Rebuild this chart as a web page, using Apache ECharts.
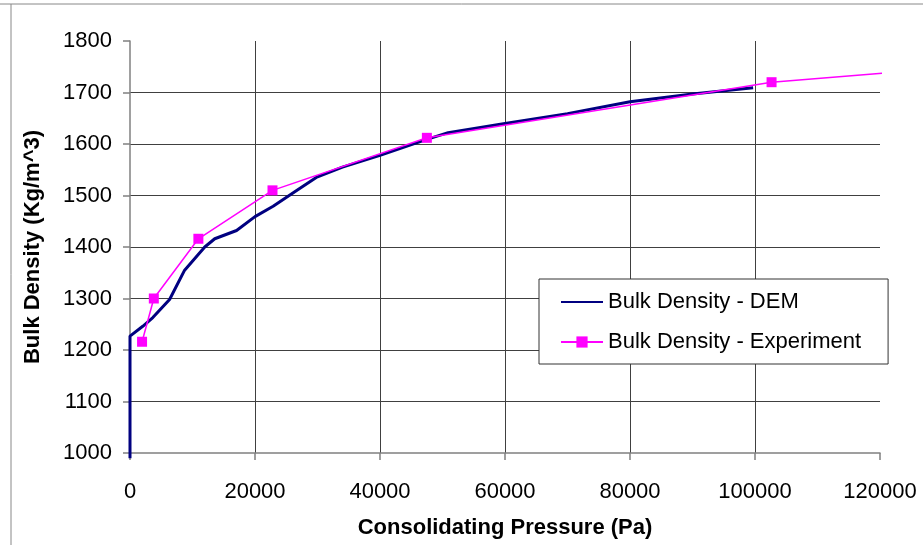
<!DOCTYPE html>
<html>
<head>
<meta charset="utf-8">
<script src="https://cdn.jsdelivr.net/npm/echarts@6/dist/echarts.min.js"></script>
<style>html,body{margin:0;padding:0;background:#fff}#c{width:923px;height:545px}</style>
</head>
<body>
<div id="c"></div>
<script>
var xTicks = [0, 20000, 40000, 60000, 80000, 100000, 120000];
var yTicks = [1000, 1100, 1200, 1300, 1400, 1500, 1600, 1700, 1800];
var demPressure = [0, 0, 2040, 3650, 6330, 8740, 11960, 13560, 17050, 20000, 22900, 26600, 29800, 34000, 40000, 47250, 50900, 60000, 70000, 80000, 90000, 99700];
var demDensity  = [990, 1227, 1246, 1263, 1298, 1355, 1400, 1416, 1432, 1459, 1479, 1509, 1535, 1555, 1578, 1608, 1622, 1640, 1659, 1682, 1697, 1709];
var expPressure = [1930, 3810, 10940, 22800, 47500, 102650, 121000];
var expDensity  = [1216, 1300, 1416, 1510, 1612, 1720, 1738];
var expMarked   = [true, true, true, true, true, true, false];

var font = '"Liberation Sans", Arial, sans-serif';
var demData = demPressure.map(function (p, i) { return [p, demDensity[i]]; });
var expData = expPressure.map(function (p, i) {
  var d = { value: [p, expDensity[i]] };
  if (!expMarked[i]) d.symbol = 'none';
  return d;
});
function plain(v) { return String(v); }

var chart = echarts.init(document.getElementById('c'));
chart.setOption({
  animation: false,
  backgroundColor: '#fff',
  grid: { left: 130, right: 43, top: 41, bottom: 92, containLabel: false },
  xAxis: {
    type: 'value', min: xTicks[0], max: xTicks[xTicks.length - 1], interval: 20000,
    name: 'Consolidating Pressure (Pa)', nameLocation: 'middle', nameGap: 64,
    nameTextStyle: { fontFamily: font, fontSize: 22, fontWeight: 'bold', color: '#000' },
    axisLine: { show: true, lineStyle: { color: '#808080', width: 1.5 } },
    axisTick: { show: true, inside: false, length: 7, lineStyle: { color: '#808080', width: 1.5 } },
    axisLabel: { fontFamily: font, fontSize: 22, color: '#000', margin: 28, formatter: plain },
    splitLine: { show: true, showMinLine: false, showMaxLine: false, lineStyle: { color: '#404040', width: 1 } }
  },
  yAxis: {
    type: 'value', min: yTicks[0], max: yTicks[yTicks.length - 1], interval: 100,
    name: 'Bulk Density (Kg/m^3)', nameLocation: 'middle', nameGap: 86,
    nameTextStyle: { fontFamily: font, fontSize: 22, fontWeight: 'bold', color: '#000' },
    axisLine: { show: true, lineStyle: { color: '#808080', width: 1.5 } },
    axisTick: { show: true, inside: false, length: 7, lineStyle: { color: '#808080', width: 1.5 } },
    axisLabel: { fontFamily: font, fontSize: 22, color: '#000', margin: 18, formatter: plain },
    splitLine: { show: true, showMinLine: false, showMaxLine: false, lineStyle: { color: '#404040', width: 1 } }
  },
  legend: {
    orient: 'vertical', left: 539, top: 279,
    padding: [12, 27, 11, 21], itemGap: 18, itemWidth: 42, itemHeight: 14,
    backgroundColor: '#fff', borderColor: '#333', borderWidth: 1,
    textStyle: { fontFamily: font, fontSize: 22, color: '#000', lineHeight: 22 },
    data: [
      { name: 'Bulk Density - DEM', itemStyle: { color: 'rgba(0,0,0,0)', borderWidth: 0 } },
      { name: 'Bulk Density - Experiment' }
    ]
  },
  graphic: [
    { type: 'line', shape: { x1: 0, y1: 4, x2: 923, y2: 4 }, style: { stroke: '#888', lineWidth: 1 }, silent: true },
    { type: 'line', shape: { x1: 11, y1: 4, x2: 11, y2: 545 }, style: { stroke: '#888', lineWidth: 1 }, silent: true }
  ],
  series: [
    {
      name: 'Bulk Density - DEM', type: 'line', data: demData, showSymbol: false, symbol: 'none',
      clip: false, lineStyle: { color: '#000080', width: 3 }, itemStyle: { color: '#000080' }, z: 3
    },
    {
      name: 'Bulk Density - Experiment', type: 'line', data: expData, symbol: 'rect', symbolSize: 10,
      clip: false, lineStyle: { color: '#FF00FF', width: 1.5 }, itemStyle: { color: '#FF00FF' }, z: 4
    }
  ]
});
</script>
</body>
</html>
